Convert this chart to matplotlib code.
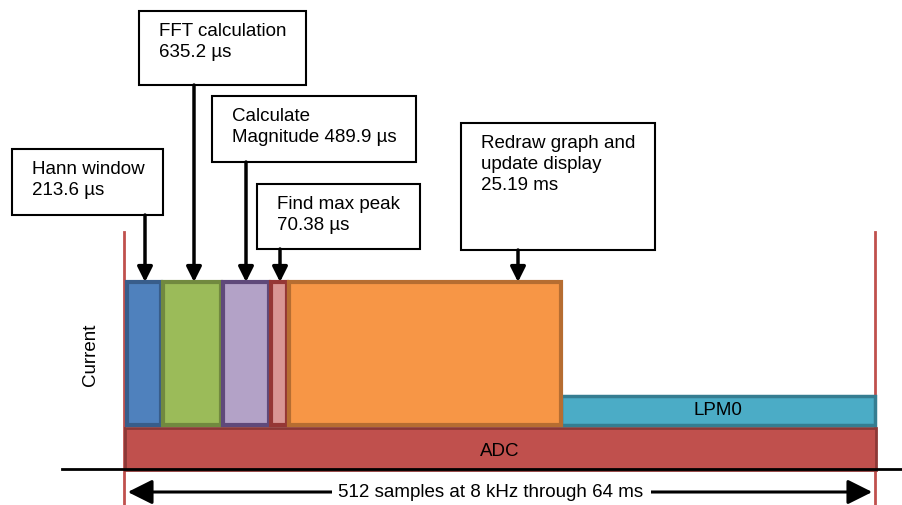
import matplotlib.pyplot as plt
from matplotlib.patches import Rectangle, FancyArrowPatch

plt.rcParams['font.family'] = ['Liberation Sans', 'DejaVu Sans']

# Task blocks (diagram units, not to scale)
tasks = ['Hann window', 'FFT calculation', 'Calculate Magnitude', 'Find max peak', 'Redraw']
task_start = [126, 162, 222, 270, 288]
task_end = [162, 222, 270, 288, 562]
task_fill = ['#4F81BD', '#9BBB59', '#B3A2C7', '#D99694', '#F79646']
task_edge = ['#385D8A', '#71893F', '#5F497A', '#953735', '#B66D31']

# Callout labels
labels = ['Hann window\n213.6 µs', 'FFT calculation\n635.2 µs', 'Calculate\nMagnitude 489.9 µs',
          'Find max peak\n70.38 µs', 'Redraw graph and\nupdate display\n25.19 ms']
box_x0 = [12, 139, 212, 257, 461]
box_x1 = [163, 306, 416, 420, 655]
box_y0 = [150, 12, 97, 185, 124]
box_y1 = [216, 86, 163, 250, 251]
arrow_x = [145, 194, 246, 280, 518]

FS = 13.5

fig = plt.figure(figsize=(9.02, 5.06), dpi=100)
ax = fig.add_axes([0, 0, 1, 1])
ax.set_xlim(0, 902)
ax.set_ylim(506, 0)
ax.axis('off')

# red boundary lines
for x in [124, 875]:
    ax.plot([x, x], [233, 506], color='#C0504D', lw=2, zorder=1)

# ADC bar
ax.add_patch(Rectangle((125, 429), 751, 42, facecolor='#C0504D', edgecolor='#8C3836', lw=2, zorder=2))
ax.text(500, 452, 'ADC', ha='center', va='center', fontsize=FS, zorder=5)

# LPM0 bar
ax.add_patch(Rectangle((561, 397), 314, 29, facecolor='#4BACC6', edgecolor='#357D91', lw=2.5, zorder=2))
ax.text(718, 411, 'LPM0', ha='center', va='center', fontsize=FS, zorder=5)

# task blocks
for s, e, fc, ec in zip(task_start, task_end, task_fill, task_edge):
    ax.add_patch(Rectangle((s + 1, 283), e - s - 2, 143, facecolor=fc, edgecolor=ec, lw=3, zorder=3))

# axis line
ax.plot([62, 902], [470, 470], color='black', lw=2, zorder=4)

# callouts
for lab, x0, x1, y0, y1, ax_ in zip(labels, box_x0, box_x1, box_y0, box_y1, arrow_x):
    ax.add_patch(Rectangle((x0, y0), x1 - x0, y1 - y0, facecolor='white', edgecolor='black', lw=1.5, zorder=6))
    ax.text(x0 + 20, y0 + 11, lab, ha='left', va='top', fontsize=FS, linespacing=1.32, zorder=7)
    ax.annotate('', xy=(ax_, 283), xytext=(ax_, y1),
                arrowprops=dict(arrowstyle='-|>,head_length=0.9,head_width=0.45', color='black', lw=2.5,
                                shrinkA=0, shrinkB=0), zorder=7)

ax.text(90, 355, 'Current', rotation=90, ha='center', va='center', fontsize=FS)

# span arrow
ax.add_patch(FancyArrowPatch((125, 493), (875, 493), arrowstyle='<|-|>,head_length=10,head_width=5',
                             color='black', lw=2.2, mutation_scale=1.5, zorder=4))
ax.text(491, 493, '512 samples at 8 kHz through 64 ms', ha='center', va='center', fontsize=FS,
        bbox=dict(facecolor='white', edgecolor='none', pad=5), zorder=5)

fig.savefig('out.png', dpi=100)
